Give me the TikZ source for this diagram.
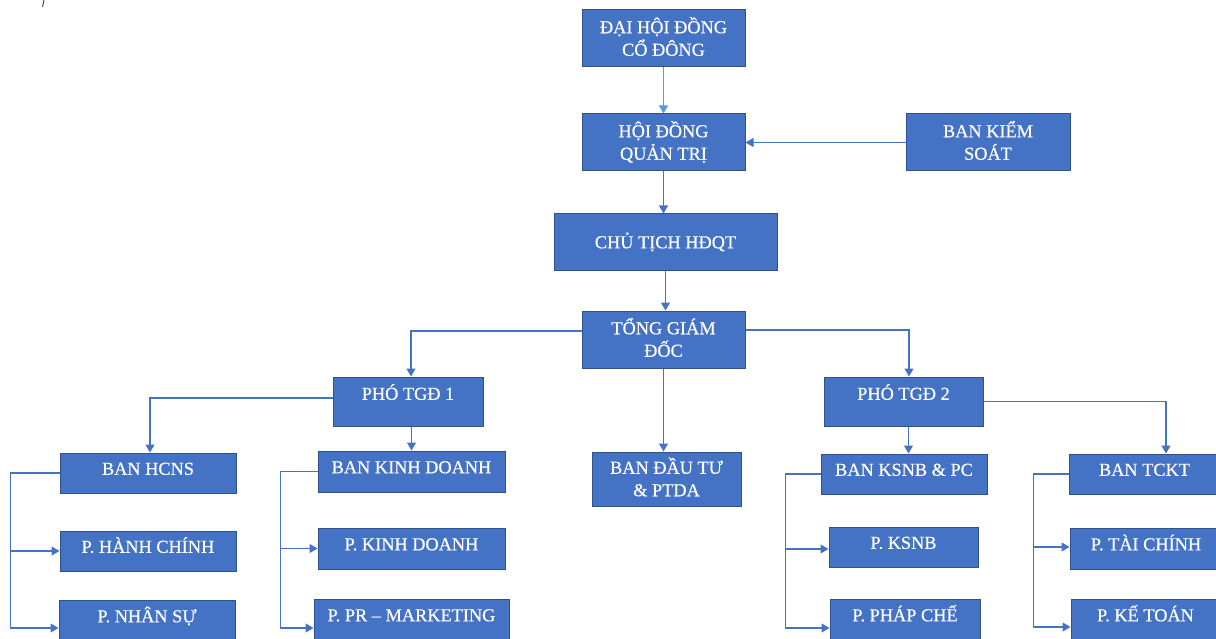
\documentclass[tikz,border=0pt]{standalone}
\usepackage{fontspec}
\setmainfont{Liberation Serif}
\newfontfamily\boxfont[FakeBold=0.5]{Liberation Serif}
\usetikzlibrary{arrows.meta}
\definecolor{boxblue}{HTML}{4472C4}
\definecolor{boxedge}{HTML}{2F528F}
\definecolor{lineblue}{HTML}{4472C4}
\definecolor{paleblue}{HTML}{5B9BD5}

\begin{document}
\begin{tikzpicture}[x=1pt, y=-1pt,
  box/.style={draw=boxedge, line width=1pt, fill=boxblue, text=white, inner sep=0pt,
              align=center, font=\boxfont\fontsize{18.3}{22.5}\selectfont,
              text height=12pt, text depth=8.4pt},
  wh/.style 2 args={minimum width=#1pt, minimum height=#2pt},
  two/.style={text height=34.9pt, text depth=0.4pt},
  mid/.style={text depth=0.4pt},
  high/.style={text depth=15.4pt},
  conn/.style={draw=lineblue, line width=1.2pt, -{Triangle[width=9pt,length=8pt]}},
]
  \clip (0,0) rectangle (1216,639);

  % top of the chart
  \node[box, two, wh={163}{57}] (dhdcd) at (663.5,38.5) {ĐẠI HỘI ĐỒNG\\CỔ ĐÔNG};
  \node[box, two, wh={163}{57}] (hdqt) at (663.5,142.5) {HỘI ĐỒNG\\QUẢN TRỊ};
  \node[box, two, wh={164}{57}] (bks) at (988,142.5) {BAN KIỂM\\SOÁT};
  \node[box, mid, wh={223}{57}] (ct) at (665.5,242.5) {CHỦ TỊCH HĐQT};
  \node[box, two, wh={163}{57}] (tgd) at (663.5,339.5) {TỔNG GIÁM\\ĐỐC};

  \node[box, high, wh={150}{49}] (ptgd1) at (408,401.5) {PHÓ TGĐ 1};
  \node[box, high, wh={159}{49}] (ptgd2) at (903.5,401.5) {PHÓ TGĐ 2};
  \node[box, two, wh={149}{54}] (bdt) at (666.5,479) {BAN ĐẦU TƯ\\\& PTDA};

  % ban
  \node[box, wh={176}{40}] (hcns) at (148,473) {BAN HCNS};
  \node[box, wh={187}{41}] (bkd) at (411.5,471.5) {BAN KINH DOANH};
  \node[box, wh={166}{40}] (ksnb) at (904,474) {BAN KSNB \& PC};
  \node[box, wh={151}{40}] (tckt) at (1144.5,474) {BAN TCKT};

  % phong
  \node[box, wh={176}{40}] (hanhchinh) at (148,551) {P. HÀNH CHÍNH};
  \node[box, wh={176}{41}] (nhansu) at (147,620.5) {P. NHÂN SỰ};
  \node[box, wh={187}{41}] (pkd) at (411.5,548.5) {P. KINH DOANH};
  \node[box, wh={195}{41}] (pr) at (411.5,619.5) {P. PR – MARKETING};
  \node[box, wh={149}{40}] (pksnb) at (903.5,547) {P. KSNB};
  \node[box, wh={150}{41}] (phapche) at (905,619.5) {P. PHÁP CHẾ};
  \node[box, wh={152}{41}] (ptc) at (1146,548.5) {P. TÀI CHÍNH};
  \node[box, wh={149}{41}] (ketoan) at (1145.5,619.5) {P. KẾ TOÁN};

  \draw[conn, draw=paleblue] (dhdcd) -- (hdqt);
  \draw[conn] (bks) -- (hdqt);
  \draw[conn] (hdqt.south) -- (hdqt.south |- ct.north);
  \draw[conn] (ct.south) -- (ct.south |- tgd.north);
  \draw[conn] ([yshift=8.5pt]tgd.west) -| ([xshift=3pt]ptgd1.north);
  \draw[conn] ([yshift=9.5pt]tgd.east) -| ([xshift=5.5pt]ptgd2.north);
  \draw[conn] (tgd.south) -- (tgd.south |- bdt.north);

  \draw[conn] ([yshift=3.5pt]ptgd1.west) -| ([xshift=2pt]hcns.north);
  \draw[conn] (bkd.north |- ptgd1.south) -- (bkd.north);
  \draw[conn] ([xshift=5pt]ptgd2.south) -- ([xshift=5pt]ptgd2.south |- ksnb.north);
  \draw[conn] (ptgd2.east) -| ([xshift=21.5pt]tckt.north);

  % side brackets
  \draw[conn] (hcns.west) -- ++(-49,0) |- ([yshift=-7.5pt]nhansu.west);
  \draw[conn] (hcns.west) ++(-49,0) |- (hanhchinh.west);
  \draw[conn] (bkd.west) -- ++(-37,0) |- ([yshift=-8.5pt]pr.west);
  \draw[conn] (bkd.west) ++(-37,0) |- (pkd.west);
  \draw[conn] (ksnb.west) -- ++(-35,0) |- ([yshift=-8.5pt]phapche.west);
  \draw[conn] (ksnb.west) ++(-35,0) |- ([yshift=-2pt]pksnb.west);
  \draw[conn] (tckt.west) -- ++(-35,0) |- ([yshift=-7.5pt]ketoan.west);
  \draw[conn] (tckt.west) ++(-35,0) |- ([yshift=1.5pt]ptc.west);

  \draw[black!70, line width=1pt] (44,0) -- (42.5,7);
\end{tikzpicture}
\end{document}
